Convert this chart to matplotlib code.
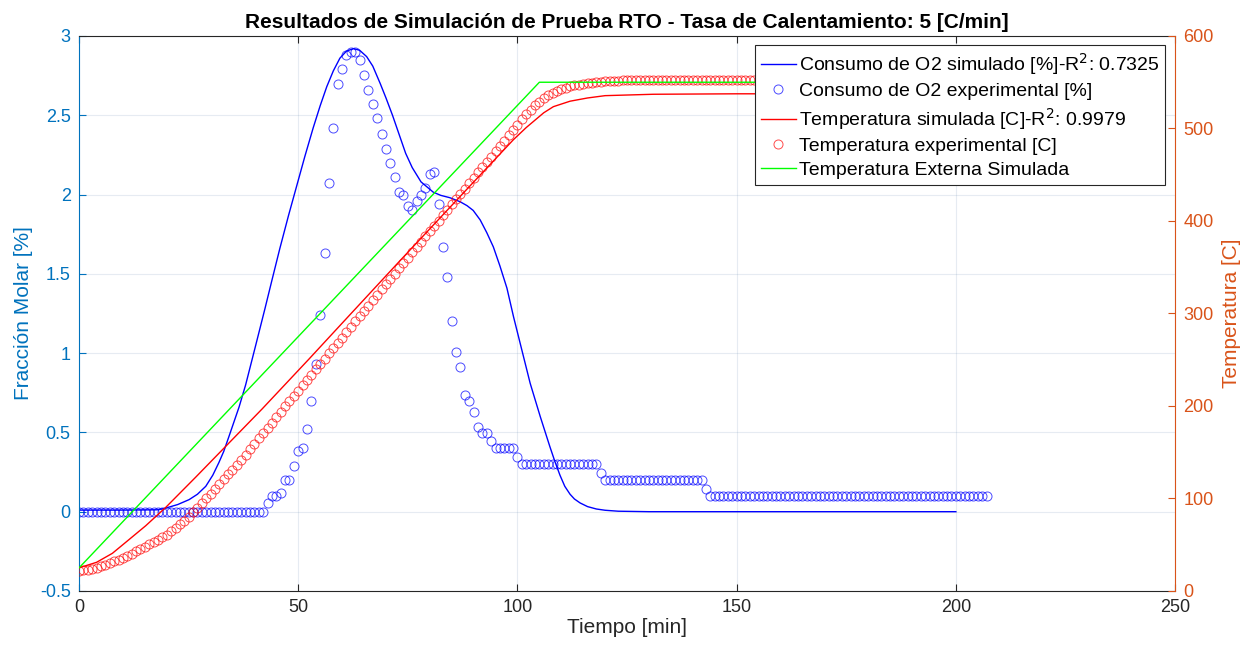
import numpy as np
import matplotlib.pyplot as plt

plt.rcParams['font.family'] = ['Liberation Sans', 'DejaVu Sans']

##################
# Data

# experimental samples: one every minute
t_exp = np.arange(0, 208)

o2_exp = ([0.0] * 43 +
          [0.055, 0.10, 0.10, 0.12, 0.20, 0.20, 0.29, 0.38, 0.40, 0.52,
           0.70, 0.93, 1.24, 1.63, 2.07, 2.42, 2.70, 2.79, 2.88, 2.90,
           2.90, 2.85, 2.755, 2.66, 2.57, 2.48, 2.385, 2.29, 2.20, 2.11,
           2.016, 2.00, 1.93, 1.90, 1.96, 2.00, 2.04, 2.13, 2.14, 1.94,
           1.67, 1.48, 1.20, 1.01, 0.91, 0.733, 0.696, 0.626, 0.536, 0.498,
           0.498, 0.448] +
          [0.4] * 5 + [0.345] + [0.3] * 18 + [0.245] + [0.2] * 23 +
          [0.145] + [0.1] * 64)

temp_exp = ([22, 22.5, 23, 24, 25, 26.5, 28, 30, 32, 34,
             36, 38, 40.5, 43, 45.5, 48, 50.5, 53, 55.5, 58,
             61, 64.5, 68, 72, 76, 80, 85, 90, 95, 100,
             105, 110, 115.5, 121, 126, 131, 136.5, 142, 147.5, 153,
             159,
             165, 170.5, 176.5, 182, 188, 193.5, 199.5, 205, 211, 216.5,
             222.5, 228, 234, 239.5, 245.5, 251, 257, 262.5, 268.5, 274,
             280, 285.5, 291.5, 297, 303, 308.5, 314.5, 320, 326, 331.5,
             337.5, 343, 349, 354.5, 360.5, 366, 372, 377.5, 383.5, 389,
             395, 400.5, 406.5, 412, 418, 423.5, 429.5, 435, 441, 446.5,
             452.5, 458, 464, 469.5, 475.5, 481, 487, 492.5, 498, 504,
             510, 515.5, 520.5, 525, 529, 533, 536, 538.5, 540.5, 542.5,
             544, 545.5, 546.5, 547.5, 548.5, 549, 549.5, 550, 550.5, 551,
             551, 551.5, 551.5] +
            [552] * 84)

# simulated O2 consumption
t_o2_sim = [0, 10, 18, 19.8, 22.5, 25.1, 27, 28.9, 30.5, 31.9, 33, 34.2, 36.5,
            38, 40.3, 42.4, 44, 45.8, 47.8, 49.7, 51.5, 53.4, 55, 56.5, 58,
            59.5, 61, 62.6, 64, 65.6, 67, 68.7, 70, 71.5, 73, 74.5, 76, 78,
            80.8, 82.5, 84.6, 86.9, 88.5, 89.9, 91.5, 93, 94.5, 96, 97.6,
            99.1, 101, 102.9, 105.2, 107.4, 108.5, 109.7, 110.8, 112, 113,
            114.3, 116, 118, 120, 123, 130, 200]
o2_sim = [0.01, 0.01, 0.012, 0.023, 0.045, 0.076, 0.11, 0.16, 0.23, 0.31, 0.38,
          0.475, 0.66, 0.80, 1.05, 1.28, 1.46, 1.66, 1.87, 2.06, 2.24, 2.42,
          2.56, 2.68, 2.78, 2.86, 2.905, 2.92, 2.91, 2.87, 2.81, 2.70, 2.61,
          2.50, 2.38, 2.26, 2.17, 2.08, 2.015, 1.995, 1.98, 1.955, 1.93, 1.90,
          1.84, 1.76, 1.67, 1.55, 1.41, 1.23, 1.02, 0.81, 0.60, 0.41, 0.32,
          0.23, 0.16, 0.11, 0.08, 0.055, 0.032, 0.017, 0.009, 0.003, 0.0, 0.0]

# simulated sample temperature
t_temp_sim = [0, 4, 7.6, 11, 15.2, 19.8, 26.6, 34.2, 41.8, 52.5, 60.3, 73.2,
              88.4, 99.1, 102, 104.5, 106, 108.2, 112, 116, 120, 131, 150, 200]
temp_sim = [25, 31, 40.7, 54, 70.5, 90.5, 123, 160, 197, 251, 291, 357,
            434, 488, 501, 511, 517, 523.6, 529.5, 533, 535.5, 537, 537.5, 537.5]

# simulated external (oven) temperature
t_ext = [0, 105, 200]
temp_ext = [25, 550, 550]

labels = ['Consumo de O2 simulado [%]-R$^2$: 0.7325',
          'Consumo de O2 experimental [%]',
          'Temperatura simulada [C]-R$^2$: 0.9979',
          'Temperatura experimental [C]',
          'Temperatura Externa Simulada']

##################
# Plot

c_left = '#0072BD'
c_right = '#D95319'
c_dark = '#262626'

fig = plt.figure(figsize=(12.45, 6.52), dpi=100)
ax = fig.add_axes([0.0635, 0.0936, 0.8803, 0.8512])
ax2 = ax.twinx()

h1, = ax.plot(t_o2_sim, o2_sim, color='b', lw=1.0)
h2, = ax.plot(t_exp, o2_exp, 'o', mfc='none', mec='b', ms=6.5, mew=0.7, alpha=0.7)
h3, = ax2.plot(t_temp_sim, temp_sim, color='r', lw=1.0)
h4, = ax2.plot(t_exp, temp_exp, 'o', mfc='none', mec='r', ms=6.5, mew=0.7, alpha=0.7)
h5, = ax2.plot(t_ext, temp_ext, color='#00FF00', lw=1.0)

ax.set_xlim(0, 250)
ax.set_ylim(-0.5, 3)
ax2.set_ylim(0, 600)
ax.set_xticks(np.arange(0, 251, 50))
ax.set_yticks(np.arange(-0.5, 3.01, 0.5))
ax.set_yticklabels(['-0.5', '0', '0.5', '1', '1.5', '2', '2.5', '3'])
ax2.set_yticks(np.arange(0, 601, 100))

ax.grid(True, color='#5a7fa8', alpha=0.15, lw=0.8)
ax.set_axisbelow(True)

ax.tick_params(axis='x', direction='in', length=5, colors=c_dark, labelsize=13,
               top=True, pad=6)
ax.tick_params(axis='y', direction='in', length=5, colors=c_left, labelsize=13, pad=6)
ax2.tick_params(axis='y', direction='in', length=5, colors=c_right, labelsize=13, pad=6)

for s in ['top', 'bottom']:
    ax.spines[s].set_color(c_dark)
ax.spines['left'].set_color(c_left)
ax.spines['right'].set_visible(False)
for s in ['top', 'bottom', 'left']:
    ax2.spines[s].set_visible(False)
ax2.spines['right'].set_color(c_right)

ax.set_xlabel('Tiempo [min]', fontsize=15, color=c_dark, labelpad=1)
ax.set_ylabel('Fracción Molar [%]', fontsize=15, color=c_left, labelpad=5)
ax2.set_ylabel('Temperatura [C]', fontsize=15, color=c_right, labelpad=6)
ax.set_title('Resultados de Simulación de Prueba RTO - Tasa de Calentamiento: 5 [C/min]',
             fontsize=15, fontweight='bold', pad=6)

leg = ax2.legend([h1, h2, h3, h4, h5], labels, loc='upper right',
                 bbox_to_anchor=(0.991, 0.984), fontsize=14, numpoints=1,
                 fancybox=False, framealpha=1, edgecolor=c_dark,
                 handlelength=1.8, handletextpad=0.15, labelspacing=0.3,
                 borderpad=0.3, borderaxespad=0)
leg.get_frame().set_linewidth(0.8)

plt.savefig('out.png', dpi=100)
